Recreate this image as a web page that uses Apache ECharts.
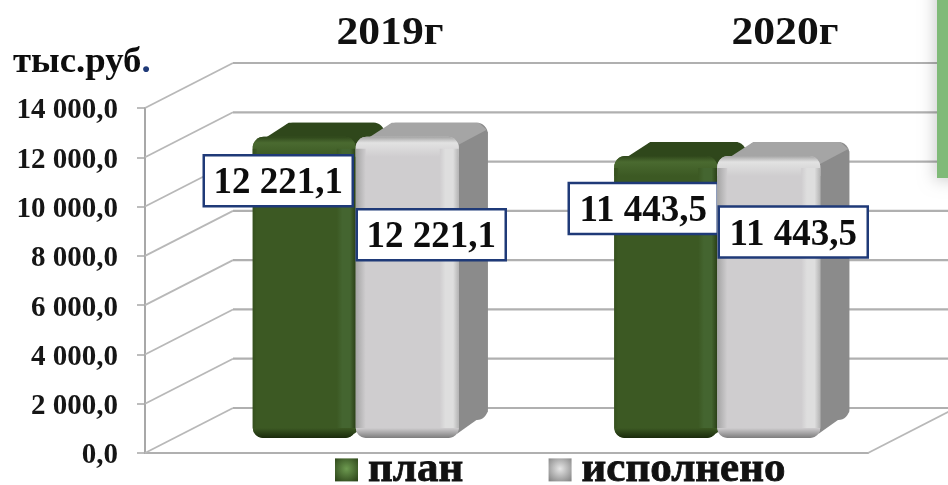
<!DOCTYPE html>
<html><head><meta charset="utf-8">
<style>html,body{margin:0;padding:0;background:#fff}#c{width:948px;height:485px;filter:blur(0.6px)}</style>
<script src="https://cdn.jsdelivr.net/npm/echarts@6/dist/echarts.min.js"></script>
</head><body><div id="c"></div>
<script>
const categories = ['2019г', '2020г'];
const planValues = [12221.1, 11443.5];
const doneValues = [12221.1, 11443.5];
const yTicks = [0, 2000, 4000, 6000, 8000, 10000, 12000, 14000];
const unitLabel = 'тыс.руб';
const seriesNames = ['план', 'исполнено'];
const planLabelOffset = [[-26, 44], [-22.5, 52.5]];
const doneLabelOffset = [[24, 98], [24.5, 76]];
const headingCenters = [390, 785];

const FONT = '"Liberation Serif","Times New Roman",serif';
const fmt = (v, d) => {
  const s = v.toFixed(d).split('.');
  return s[0].replace(/\B(?=(\d{3})+$)/g, ' ') + (d ? ',' + s[1] : '');
};
const lin = (x0, y0, x1, y1, stops) => ({type:'linear', x:x0, y:y0, x2:x1, y2:y1,
  colorStops: stops.map(s => ({offset:s[0], color:s[1]}))});
const rad = (inner, outer) => ({type:'radial', x:0.5, y:0.45, r:0.7,
  colorStops:[{offset:0, color:inner},{offset:1, color:outer}]});

const BW = 103, DX = 29, DY = -14, PX = 30, PY = -15;
const palettes = [
  {main:'#3c5923', top:'#2f471b', side:'#2f471b', hiTop:'#4a6a30', hiRight:'#446530', edge:'#2a3f16', left:'#35501e', bottom:'#1a2a0c', bw:4},
  {main:'#cfcdcf', top:'#a5a5a5', side:'#8b8b8b', hiTop:'#e2e2e2', hiRight:'#dedede', edge:'#b4b4b4', left:'#a4a4a4', bottom:'#7d7d7d', bw:10}
];

function barRenderer(sIdx, offsets) {
  return function (params, api) {
    const i = api.value(0), v = api.value(1);
    const c = api.coord([i, v]), c0 = api.coord([i, 0]);
    const P = palettes[sIdx];
    const xL = c[0] + PX + (sIdx === 0 ? -BW : 0), xR = xL + BW;
    const top = c[1] + PY, bot = c0[1] + PY;
    const w = BW, h = bot - top;
    const r = 11;
    const ch = [];
    // back body and side face
    ch.push({type:'rect', shape:{x:xL+DX, y:top+DY, width:w, height:h-4, r:r}, style:{fill:P.side}});
    ch.push({type:'polygon', shape:{points:[[xR-2,top+6],[xR+DX,top+DY+9],[xR+DX,bot+DY-12],[xR-2,bot-4]]}, style:{fill:P.side}});
    // top face
    ch.push({type:'polygon', shape:{points:[[xL+2,top+8],[xL+DX+7,top+DY],[xR+DX-9,top+DY],[xR+DX-1,top+DY+7],[xR-4,top+10]]}, style:{fill:P.top}});
    // front face
    ch.push({type:'rect', shape:{x:xL, y:top, width:w, height:h, r:r}, style:{fill:P.main}});
    // bevels
    ch.push({type:'rect', shape:{x:xL, y:top, width:w, height:20, r:[r,r,0,0]},
      style:{fill:lin(0,0,0,1,[[0,P.top],[0.3,P.hiTop],[1,P.main]])}});
    ch.push({type:'rect', shape:{x:xL, y:bot-10, width:w, height:10, r:[0,0,r,r]},
      style:{fill:lin(0,0,0,1,[[0,P.main],[1,P.bottom]])}});
    ch.push({type:'rect', shape:{x:xL, y:top+12, width:P.bw, height:h-22},
      style:{fill:lin(0,0,1,0,[[0,P.left],[1,P.main]])}});
    ch.push({type:'rect', shape:{x:xR-19, y:top+12, width:19, height:h-22},
      style:{fill:lin(0,0,1,0,[[0,P.main],[0.3,P.hiRight],[0.7,P.hiRight],[1,P.edge]])}});
    // value label
    const off = offsets[params.dataIndex];
    const cx = xL + BW/2 + off[0], cy = top + off[1];
    ch.push({type:'rect', shape:{x:cx-74.5, y:cy-25.5, width:149, height:51},
      style:{fill:'#fff', stroke:'#1f3a78', lineWidth:2.5}});
    ch.push({type:'text', style:{x:cx, y:cy+3, text:fmt(v,1), align:'center', verticalAlign:'middle',
      font:'bold 37px '+FONT, fill:'#0d0d0d'}});
    return {type:'group', children:ch};
  };
}

function wallRenderer(params, api) {
  const v = api.value(0);
  const band = api.size([1, 0])[0];
  const c = api.coord([0, v]);
  const x0 = c[0] - band/2, y = c[1];
  const right = x0 + band*2;
  const style = {stroke:'#b0b0b0', lineWidth:2.2, fill:null};
  const thin = {stroke:'#b8b8b8', lineWidth:1.8, fill:null};
  const ch = [
    {type:'line', shape:{x1:x0, y1:y, x2:x0+88, y2:y-45}, style:thin},
    {type:'line', shape:{x1:x0+88, y1:y-45, x2:right+88, y2:y-45}, style:style}
  ];
  if (v === 0) {
    ch.push({type:'line', shape:{x1:right, y1:y, x2:right+88, y2:y-45}, style:thin});
  }
  return {type:'group', children:ch};
}

const chart = echarts.init(document.getElementById('c'), null, {renderer:'canvas'});
chart.setOption({
  animation:false,
  backgroundColor:'#fff',
  grid:{left:145, right:80, top:108, bottom:32, containLabel:false},
  xAxis:{type:'category', data:categories, axisLabel:{show:false}, axisTick:{show:false},
    axisLine:{show:true, lineStyle:{color:'#b0b0b0', width:2.2}}, splitLine:{show:false}},
  yAxis:{type:'value', min:0, max:14000, interval:2000, splitLine:{show:false},
    axisLine:{show:true, lineStyle:{color:'#a8a8a8', width:2}},
    axisTick:{show:true, length:8, lineStyle:{color:'#a8a8a8', width:1.5}},
    axisLabel:{margin:27, formatter:v => '{a|' + fmt(v,1) + '}',
      rich:{a:{color:'#161616', padding:[6,0,0,0], fontFamily:FONT, fontWeight:'bold', fontSize:29}}}},
  legend:{left:335, top:448, padding:0, itemWidth:23, itemHeight:23, itemGap:85, icon:'rect',
    selectedMode:false,
    textStyle:{fontFamily:FONT, fontWeight:'bold', fontSize:43, color:'#111', padding:[0,0,5,5],
      textBorderColor:'#111', textBorderWidth:0.8},
    data:[
      {name:seriesNames[0], itemStyle:{color:rad('#6d9a50','#2c4419')}},
      {name:seriesNames[1], itemStyle:{color:rad('#e6e6e6','#858585')}}
    ]},
  graphic:[
    {type:'text', left:13, top:45, scaleX:1.05, style:{rich:{a:{font:'bold 35px '+FONT, fill:'#0d0d0d'}, b:{font:'bold 35px '+FONT, fill:'#1f3a78'}},
      text:'{a|'+unitLabel+'}{b|.}'}, z:10},
    ...categories.map((c,i)=>({type:'text', x:headingCenters[i], y:34, scaleX:1.09,
      style:{text:c, align:'center', verticalAlign:'middle', font:'bold 40px '+FONT, fill:'#111'}, z:10})),
    {type:'rect', shape:{x:937, y:-20, width:40, height:198}, z:20,
      style:{fill:'#80ba78', shadowBlur:16, shadowColor:'rgba(0,0,0,0.2)', shadowOffsetX:-2, shadowOffsetY:2}}
  ],
  series:[
    {type:'custom', coordinateSystem:'cartesian2d', silent:true, clip:false, z:1,
      data:yTicks.map(v=>[v]), encode:{y:0}, renderItem:wallRenderer},
    {type:'custom', name:seriesNames[0], coordinateSystem:'cartesian2d', z:3, clip:false,
      data:planValues.map((v,i)=>[i,v]), encode:{x:0,y:1}, renderItem:barRenderer(0, planLabelOffset)},
    {type:'custom', name:seriesNames[1], coordinateSystem:'cartesian2d', z:3, clip:false,
      data:doneValues.map((v,i)=>[i,v]), encode:{x:0,y:1}, renderItem:barRenderer(1, doneLabelOffset)}
  ]
});
</script></body></html>
